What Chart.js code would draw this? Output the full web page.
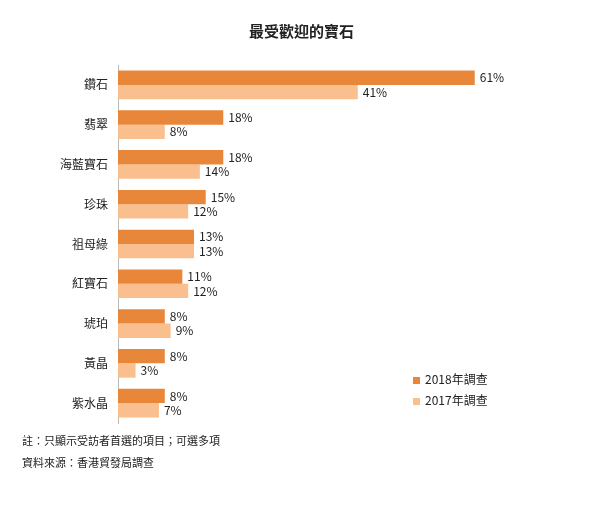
<!DOCTYPE html>
<html><head><meta charset="utf-8">
<script src="https://cdn.jsdelivr.net/npm/chart.js@4"></script>
<style>
body{margin:0;background:#fff;font-family:"Noto Sans CJK TC","Noto Sans",sans-serif;}
#wrap{position:relative;width:603px;height:506px;}
#title{position:absolute;top:20px;left:0;width:603px;text-align:center;font-size:15px;font-weight:bold;color:#222;}
.lg{position:absolute;left:413px;font-size:12px;color:#222;}
.lg span{display:inline-block;width:7px;height:7px;margin-right:5px;vertical-align:middle;}
.note{position:absolute;left:22px;font-size:11px;color:#222;}
</style></head><body>
<div id="wrap">
<canvas id="c" width="603" height="506"></canvas>
<div id="title">最受歡迎的寶石</div>
<div class="lg" style="top:370px"><span style="background:#E8873A"></span>2018年調查</div>
<div class="lg" style="top:391px"><span style="background:#F9BF8F"></span>2017年調查</div>
<div class="note" style="top:432px">註：只顯示受訪者首選的項目；可選多項</div>
<div class="note" style="top:454px">資料來源：香港貿發局調查</div>
</div>
<script>
const categories=["鑽石","翡翠","海藍寶石","珍珠","祖母綠","紅寶石","琥珀","黃晶","紫水晶"];
const values2018=[61,18,18,15,13,11,8,8,8];
const values2017=[41,8,14,12,13,12,9,3,7];
const labelPlugin={id:'lbl',afterDatasetsDraw(ch){const ctx=ch.ctx;ctx.save();ctx.font='12px "Noto Sans CJK TC", sans-serif';ctx.fillStyle='#222';ctx.textBaseline='middle';
ch.data.datasets.forEach((d,i)=>{ch.getDatasetMeta(i).data.forEach((b,j)=>{ctx.fillText(d.data[j]+'%',b.x+5,b.y);});});ctx.restore();}};
new Chart(document.getElementById('c'),{type:'bar',
data:{labels:categories,datasets:[
{label:'2018年調查',data:values2018,backgroundColor:'#E8873A'},
{label:'2017年調查',data:values2017,backgroundColor:'#F9BF8F'}]},
options:{indexAxis:'y',responsive:false,animation:false,
layout:{padding:{top:65,bottom:83,right:23,left:0}},
datasets:{bar:{categoryPercentage:0.72,barPercentage:1}},
plugins:{legend:{display:false},tooltip:{enabled:false}},
scales:{x:{display:false,min:0,max:79},
y:{afterFit(s){s.width=118;},grid:{display:false,drawTicks:false},border:{color:'#bbb'},
ticks:{color:'#222',padding:10,font:{size:12,family:'"Noto Sans CJK TC"'}}}}},
plugins:[labelPlugin]});
</script></body></html>
